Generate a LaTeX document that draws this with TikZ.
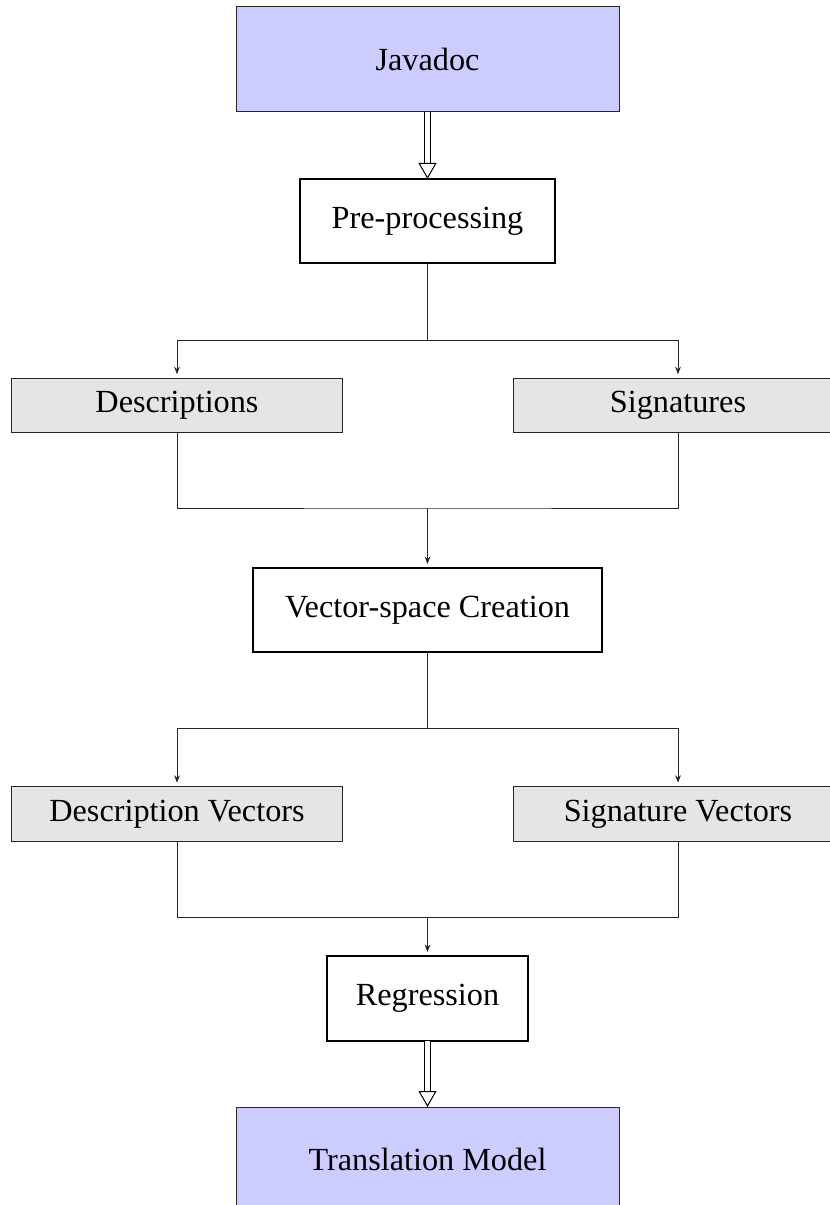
\documentclass[tikz,border=0pt]{standalone}
\usepackage{fontspec}
\setmainfont{Liberation Serif}
\usetikzlibrary{arrows.meta}
\begin{document}
\begin{tikzpicture}[x=0.4pt,y=-0.4pt,
  every node/.style={font=\fontsize{12.9}{15.5}\selectfont, inner sep=0pt, outer sep=0pt, align=center},
  endbox/.style={draw=black!85, line width=0.4pt, fill=blue!20, minimum width=153.2pt, minimum height=42pt},
  procbox/.style={draw=black, line width=0.8pt, fill=white, minimum height=33.6pt},
  databox/.style={draw=black!85, line width=0.4pt, fill=black!10, minimum width=132pt, minimum height=21.8pt},
  conn/.style={draw=black!85, line width=0.4pt},
  arr/.style={conn, -{Stealth[length=3pt,width=2.3pt]}, shorten >=1.6pt},
  dblshaft/.style={draw=black, double=white, double distance=2pt, line width=0.4pt, shorten >=6.1pt},
  dblhead/.style={draw=black, line width=0.4pt, -{Triangle[open,length=6.4pt,width=7.2pt]}}
]
\useasboundingbox (0,0) rectangle (830,1205);
\clip (0,0) rectangle (830,1205);

\node[endbox] (java) at (427.5,59.5) {Javadoc};
\node[procbox, minimum width=102pt] (pre) at (427.5,221) {Pre-processing};
\node[databox] (desc) at (177,405.5) {Descriptions};
\node[databox] (sig) at (678,405.5) {Signatures};
\node[procbox, minimum width=139.6pt] (vec) at (427.5,610) {Vector-space Creation};
\node[databox] (dvec) at (177,814) {Description Vectors};
\node[databox] (svec) at (678,814) {Signature Vectors};
\node[procbox, minimum width=80.4pt, minimum height=34pt] (reg) at (427.5,998.5) {Regression};
\node[endbox] (trans) at (427.5,1159.5) {Translation Model};

\coordinate (s1) at (427.5,340);
\coordinate (m1) at (427.5,508);
\coordinate (s2) at (427.5,728);
\coordinate (m2) at (427.5,917);

% Javadoc -> Pre-processing
\draw[dblshaft] (java.south) -- (pre.north);
\draw[dblhead] ([yshift=6.4pt]pre.north) -- (pre.north);

% split 1
\draw[conn] (pre.south) -- (s1);
\draw[arr] (s1) -| (desc.north);
\draw[arr] (s1) -| (sig.north);

% merge 1
\draw[conn] (desc.south) |- (m1) -| (sig.south);
\draw[arr] (m1) -- (vec.north);

% split 2
\draw[conn] (vec.south) -- (s2);
\draw[arr] (s2) -| (dvec.north);
\draw[arr] (s2) -| (svec.north);

% merge 2
\draw[conn] (dvec.south) |- (m2) -| (svec.south);
\draw[arr] (m2) -- (reg.north);

% Regression -> Translation Model
\draw[dblshaft] (reg.south) -- (trans.north);
\draw[dblhead] ([yshift=6.4pt]trans.north) -- (trans.north);
\end{tikzpicture}
\end{document}
